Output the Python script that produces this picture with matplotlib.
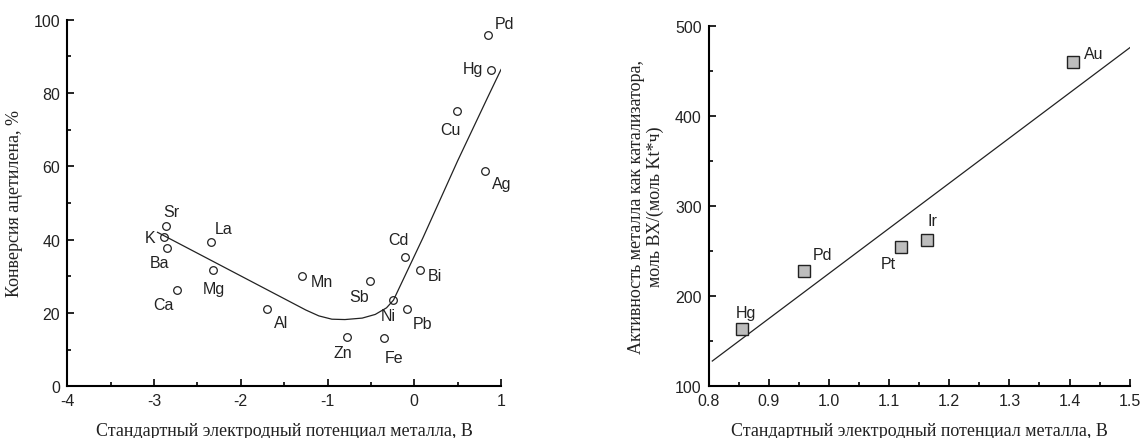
import numpy as np
import matplotlib
matplotlib.use('Agg')
import matplotlib.pyplot as plt
from matplotlib.ticker import MultipleLocator, FormatStrFormatter

plt.rcParams['axes.unicode_minus'] = False

# --- left panel: acetylene conversion vs electrode potential
metals_l = ['Sr', 'K', 'Ba', 'Ca', 'La', 'Mg', 'Al', 'Mn', 'Zn', 'Sb',
            'Fe', 'Ni', 'Pb', 'Cd', 'Bi', 'Cu', 'Ag', 'Hg', 'Pd']
pot_l = [-2.86, -2.88, -2.85, -2.74, -2.34, -2.32, -1.70, -1.29, -0.77, -0.51,
         -0.35, -0.25, -0.08, -0.11, 0.07, 0.49, 0.81, 0.88, 0.85]
conv_l = [43.7, 40.7, 37.7, 26.4, 39.3, 31.6, 21.0, 30.0, 13.5, 28.6,
          13.3, 23.4, 21.0, 35.2, 31.6, 75.0, 58.7, 86.4, 95.9]

# trend curve
curve_x = [-2.96, -2.5, -2.0, -1.5, -1.25, -1.1, -0.95, -0.8, -0.6, -0.45,
           -0.32, -0.24, -0.18, -0.1, 0.1, 0.3, 0.5, 0.7, 0.85, 1.0]
curve_y = [42.0, 36.3, 30.1, 23.9, 20.8, 19.2, 18.3, 18.2, 18.6, 19.6,
           21.4, 23.5, 26.5, 30.5, 40.5, 51.0, 61.5, 71.5, 79.0, 86.4]

# --- right panel: catalytic activity vs electrode potential
metals_r = ['Hg', 'Pd', 'Pt', 'Ir', 'Au']
pot_r = [0.856, 0.958, 1.120, 1.163, 1.405]
act_r = [163, 228, 254, 262, 460]
fit_x = [0.806, 1.503]
fit_y = [128, 477]

# label offsets in pixels (dx right, dy down)
off_l = [(5, -15), (-14, 0), (-8, 14), (-13, 15), (12, -14), (1, 18), (14, 13),
         (19, 5), (-5, 16), (-11, 15), (10, 20), (-4, 15), (15, 14), (-6, -18),
         (15, 5), (-6, 18), (17, 12), (-18, -1), (16, -11)]
off_r = [(4, -17), (19, -16), (-13, 16), (5, -20), (21, -8)]

sans = 'Liberation Sans'
serif = 'Liberation Serif'

fig = plt.figure(figsize=(11.41, 4.39), dpi=100)
ax1 = fig.add_axes([0.0590, 0.1178, 0.3801, 0.8351])
ax2 = fig.add_axes([0.6211, 0.1178, 0.3690, 0.8214])


def style_axes(ax):
    for s in ['top', 'right']:
        ax.spines[s].set_visible(False)
    for s in ['left', 'bottom']:
        ax.spines[s].set_linewidth(1.5)
    ax.tick_params(which='both', direction='in', width=1.2, labelsize=11.5, pad=5)
    ax.tick_params(which='major', length=5)
    ax.tick_params(which='minor', length=3)
    for lab in ax.get_xticklabels() + ax.get_yticklabels():
        lab.set_fontfamily(sans)
        lab.set_color('#222222')


# left
ax1.plot(curve_x, curve_y, color='#222222', lw=0.9)
ax1.plot(pot_l, conv_l, 'o', ms=5.5, mfc='none', mec='#222222', mew=0.9)
for name, x, y, (dx, dy) in zip(metals_l, pot_l, conv_l, off_l):
    ax1.annotate(name, (x, y), xytext=(dx, -dy), textcoords='offset pixels',
                 ha='center', va='center', fontsize=11.5, family=sans, color='#222222')
ax1.set_xlim(-4, 1)
ax1.set_ylim(0, 100)
ax1.xaxis.set_major_locator(MultipleLocator(1))
ax1.xaxis.set_minor_locator(MultipleLocator(0.5))
ax1.yaxis.set_major_locator(MultipleLocator(20))
ax1.yaxis.set_minor_locator(MultipleLocator(10))
style_axes(ax1)
ax1.set_xlabel('Стандартный электродный потенциал металла, В', family=serif,
               fontsize=13, labelpad=10, color='#222222')
ax1.set_ylabel('Конверсия ацетилена, %', family=serif, fontsize=13,
               labelpad=8, color='#222222')

# right
ax2.plot(fit_x, fit_y, color='#222222', lw=0.9)
ax2.plot(pot_r, act_r, 's', ms=9, mfc='#bdbdbd', mec='#222222', mew=1.0)
for name, x, y, (dx, dy) in zip(metals_r, pot_r, act_r, off_r):
    ax2.annotate(name, (x, y), xytext=(dx, -dy), textcoords='offset pixels',
                 ha='center', va='center', fontsize=11.5, family=sans, color='#222222')
ax2.set_xlim(0.8, 1.5)
ax2.set_ylim(100, 500)
ax2.xaxis.set_major_locator(MultipleLocator(0.1))
ax2.xaxis.set_minor_locator(MultipleLocator(0.05))
ax2.yaxis.set_major_locator(MultipleLocator(100))
ax2.yaxis.set_minor_locator(MultipleLocator(50))
ax2.xaxis.set_major_formatter(FormatStrFormatter('%.1f'))
style_axes(ax2)
ax2.set_xlabel('Стандартный электродный потенциал металла, В', family=serif,
               fontsize=13, labelpad=10, color='#222222')
ax2.set_ylabel('Активность металла как катализатора,\nмоль ВХ/(моль Kt*ч)',
               family=serif, fontsize=13, labelpad=8, linespacing=1.1, color='#222222')

fig.savefig('out.png', dpi=100)
